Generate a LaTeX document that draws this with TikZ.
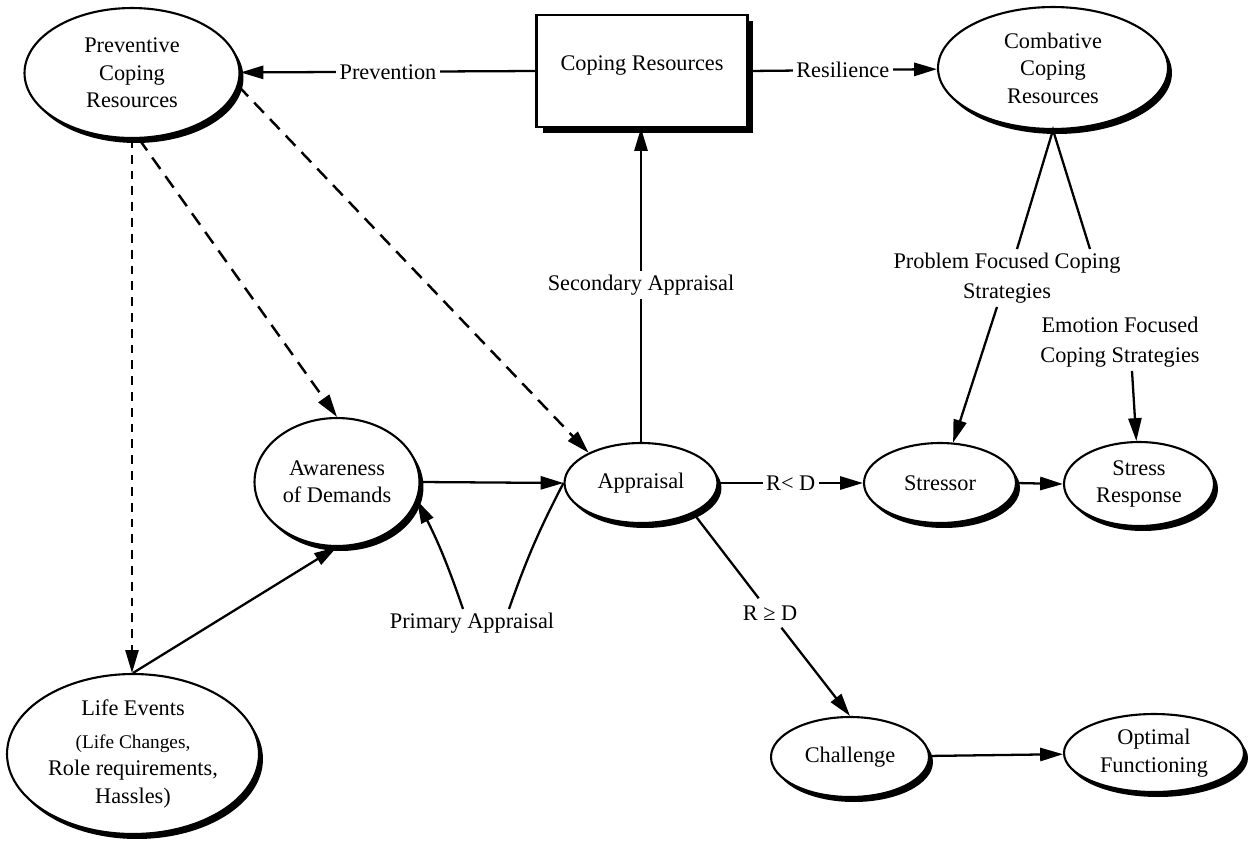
\documentclass[tikz,border=0pt]{standalone}
\usepackage{fontspec}
\setmainfont{Liberation Serif}
\usetikzlibrary{shapes.geometric,arrows.meta,shadows,calc}
\tikzset{
  ell/.style={ellipse, draw=black, line width=1.2pt, fill=white, inner sep=0pt, align=center,
    drop shadow={shadow xshift=0.08cm, shadow yshift=-0.1cm, opacity=1, fill=black}},
  boxs/.style={rectangle, draw=black, line width=1.2pt, fill=white, inner sep=0pt, align=center,
    drop shadow={shadow xshift=0.12cm, shadow yshift=-0.12cm, opacity=1, fill=black}},
  arr/.style={line width=1.3pt, -{Triangle[length=13pt,width=7.5pt]}},
  ln/.style={line width=1.3pt},
  dsh/.style={line width=1.4pt, dash pattern=on 8pt off 5pt, -{Triangle[length=13pt,width=7.5pt]}},
  dshthin/.style={line width=1pt, dash pattern=on 5pt off 4pt, -{Triangle[length=13pt,width=7.5pt]}},
  elab/.style={fill=white, inner sep=2pt},
  txt/.style={align=center, inner sep=2pt}
}
\begin{document}
\begin{tikzpicture}[x=0.02cm,y=-0.02cm, font=\fontsize{12.7}{15.6}\selectfont]
\useasboundingbox (0,0) rectangle (1249,843);

% nodes
\node[ell, minimum width=4.3cm, minimum height=2.6cm] (prev) at (132,73) {Preventive\\Coping\\Resources};
\node[ell, minimum width=4.6cm, minimum height=2.44cm] (comb) at (1053,68) {Combative\\Coping\\Resources};
\node[boxs, minimum width=4.22cm, minimum height=2.24cm, text height=9pt, text depth=10pt] (box) at (642,71) {Coping Resources};
\node[ell, minimum width=3.3cm, minimum height=2.56cm] (aware) at (337,482) {Awareness\\of Demands};
\node[ell, minimum width=3.06cm, minimum height=1.6cm] (appr) at (641,483) {Appraisal};
\node[ell, minimum width=3.04cm, minimum height=1.6cm] (stsr) at (940,483) {Stressor};
\node[ell, minimum width=3.0cm, minimum height=1.68cm] (sresp) at (1139,484) {Stress\\Response};
\node[ell, minimum width=5.04cm, minimum height=3.2cm] (life) at (133,754)
  {Life Events\\[3pt]\fontsize{11}{11.4}\selectfont (Life Changes,\\Role requirements,\\Hassles)};
\node[ell, minimum width=3.16cm, minimum height=1.6cm] (chal) at (850,757) {Challenge};
\node[ell, minimum width=3.6cm, minimum height=1.56cm] (opt) at (1154,753) {Optimal\\Functioning};

% free labels
\node[txt, font=\fontsize{12.7}{17}\selectfont] (prob) at (1007,278) {Problem Focused Coping\\Strategies};
\node[txt, font=\fontsize{12.7}{17}\selectfont] (emo) at (1120,342) {Emotion Focused\\Coping Strategies};
\node[txt] (prim) at (472,623) {Primary Appraisal};
\node[txt, inner sep=4pt] (rge) at (770,613) {R ≥ D};

% connectors
\draw[arr] (box.west) -- node[elab]{Prevention} (prev);
\draw[arr] (box.east) -- node[elab]{Resilience} (comb);
\draw[arr] (appr.north) -- node[elab]{Secondary Appraisal} (appr.north |- box.south);
\draw[arr] (appr.east) -- node[elab]{R< D} (stsr.west);
\draw[arr] (stsr.east) -- (sresp.west);
\draw[ln] (appr.-30) -- (rge);
\draw[arr] (rge) -- (chal.north);
\draw[arr] (chal) -- (opt);
\draw[arr] (aware.east) -- (appr.west);
\draw[arr] (life.north) -- (aware.south);

\coordinate (legL) at ($(prob.north)+(10,0)$);
\coordinate (legR) at ($(prob.north)+(83,0)$);
\draw[ln] (legL) -- (comb.south) -- (legR);
\coordinate (pS) at ($(prob.south)+(-10,0)$);
\draw[arr] (pS) -- (stsr);
\coordinate (eS) at ($(emo.south)+(12,0)$);
\draw[arr] (eS) -- (sresp);

\coordinate (pL) at ($(prim.north)+(-9,0)$);
\coordinate (pR) at ($(prim.north)+(37,0)$);
\draw[arr] (pL) to[bend right=4] (aware.-13);
\draw[ln] (pR) to[bend left=4] (appr.west);

% dashed
\draw[dshthin] (prev.south) -- (prev.south |- life.north);
\draw[dsh] (prev.-84) -- (aware.north);
\draw[dsh] (prev.-7) -- (appr.150);
\end{tikzpicture}
\end{document}
